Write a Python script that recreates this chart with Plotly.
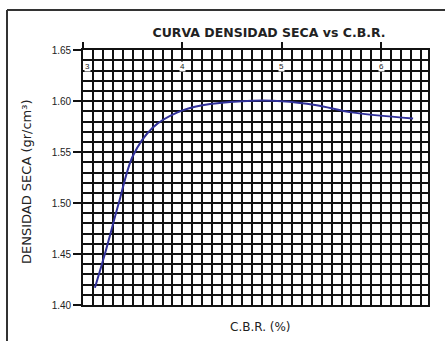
import plotly.graph_objects as go

# Curva densidad seca vs C.B.R.
cbr = [3.12, 3.22, 3.36, 3.50, 3.70, 3.95, 4.20, 4.60, 5.00, 5.35, 5.70, 6.32]
densidad = [1.417, 1.450, 1.500, 1.546, 1.574, 1.589, 1.596, 1.600, 1.600, 1.596, 1.589, 1.583]

x_ticks = [3, 4, 5, 6]
x_labels = ["3", "4", "5", "6"]
y_ticks = [1.40, 1.45, 1.50, 1.55, 1.60, 1.65]
y_labels = ["1.40", "1.45", "1.50", "1.55", "1.60", "1.65"]

W, H, L, T = 445, 341, 83, 50
PW, PH = 345, 255
TXT = "#222222"
INK = "#111111"

fig = go.Figure()
fig.add_trace(go.Scatter(
    x=cbr, y=densidad, mode="lines",
    line=dict(color="#30309a", width=2, shape="spline", smoothing=0.9),
    hoverinfo="skip", showlegend=False,
))

fig.update_layout(
    width=W, height=H,
    margin=dict(l=L, r=W - L - PW, t=T, b=H - T - PH),
    paper_bgcolor="white", plot_bgcolor="white",
    font=dict(family="DejaVu Sans, Liberation Sans, sans-serif", color=TXT),
    title=dict(text="<b>CURVA DENSIDAD SECA vs C.B.R.</b>",
               x=269 / W, xanchor="center", y=1 - 33 / H, yanchor="middle",
               font=dict(size=12.5, color=TXT)),
    xaxis=dict(
        range=[3, 6.47], side="top", tickvals=x_ticks, showticklabels=False,
        ticks="outside", ticklen=6, tickwidth=1.5, tickcolor=INK,
        showline=True, linecolor=INK, linewidth=1.6, mirror=True,
        showgrid=True, gridcolor=INK, gridwidth=1.6,
        minor=dict(dtick=0.1, tick0=3, showgrid=True, gridcolor=INK, gridwidth=1.6),
        zeroline=False, fixedrange=True,
    ),
    yaxis=dict(
        range=[1.40, 1.6502], tickvals=y_ticks, ticktext=y_labels,
        ticks="outside", ticklen=8, tickwidth=1.5, tickcolor=INK,
        tickfont=dict(size=10, color=TXT, family="Liberation Sans, Arial, sans-serif"),
        showline=True, linecolor=INK, linewidth=1.6, mirror=True,
        showgrid=True, gridcolor=INK, gridwidth=1.6,
        minor=dict(dtick=0.01, tick0=1.40, showgrid=True, gridcolor=INK, gridwidth=1.6),
        zeroline=False, fixedrange=True,
    ),
    shapes=[
        # outer frame of the chart sheet
        dict(type="line", xref="paper", yref="paper",
             x0=(7 - L) / PW, x1=(7 - L) / PW,
             y0=(T + PH - 10) / PH, y1=-(H + 2 - T - PH) / PH,
             line=dict(color="#333333", width=2)),
        dict(type="line", xref="paper", yref="paper",
             x0=(7 - L) / PW, x1=(W + 2 - L) / PW,
             y0=(T + PH - 10) / PH, y1=(T + PH - 10) / PH,
             line=dict(color="#333333", width=2)),
    ],
)

# axis titles
fig.add_annotation(text="C.B.R. (%)", xref="paper", yref="paper",
                   x=(260 - L) / PW, y=-(327 - T - PH) / PH,
                   showarrow=False, font=dict(size=12, color=TXT),
                   xanchor="center", yanchor="middle")
fig.add_annotation(text="DENSIDAD SECA (gr/cm³)", xref="paper", yref="paper",
                   x=(27 - L) / PW, y=(T + PH - 182) / PH, textangle=-90,
                   showarrow=False, font=dict(size=13, color=TXT),
                   xanchor="center", yanchor="middle")

# C.B.R. tick labels drawn just inside the top edge of the grid
for v, lab in zip(x_ticks, x_labels):
    fig.add_annotation(text=lab, x=v + (0.05 if v == x_ticks[0] else 0),
                       xref="x", yref="paper", y=(T + PH - 66) / PH,
                       showarrow=False, bgcolor="white", borderpad=0,
                       font=dict(size=8, color=TXT, family="Liberation Sans, Arial, sans-serif"),
                       xanchor="center", yanchor="middle")

fig.write_html("out.html")
